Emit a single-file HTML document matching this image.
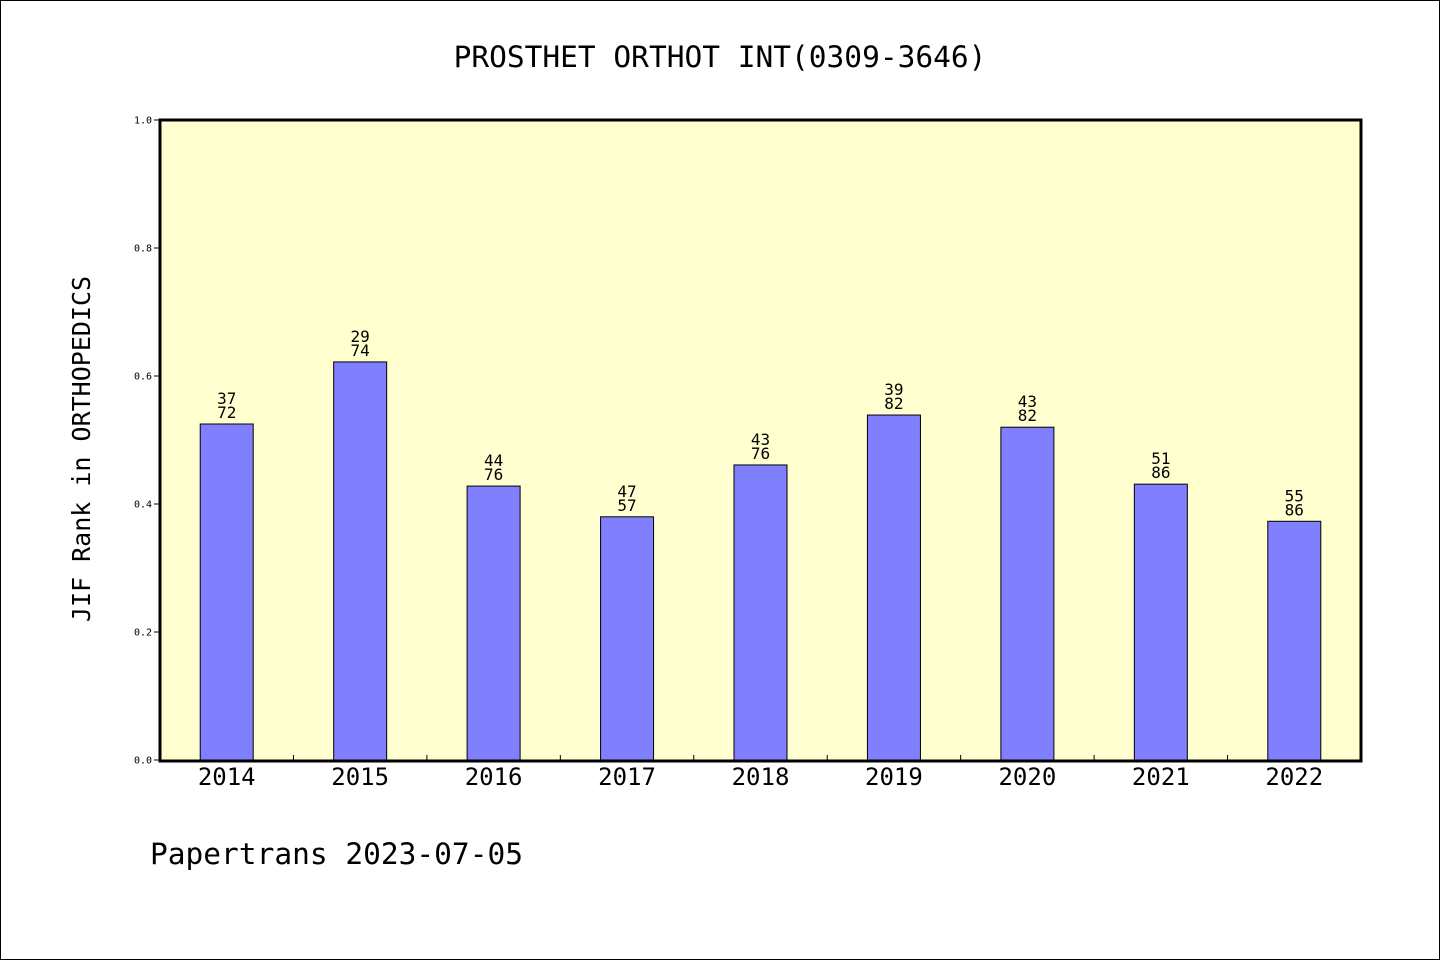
<!DOCTYPE html>
<html><head><meta charset="utf-8"><style>
html,body{margin:0;padding:0;background:#fff}
svg{display:block}
text{font-family:"DejaVu Sans Mono","Liberation Mono","WenQuanYi Zen Hei",monospace;fill:#000}
</style></head><body>
<svg id="chart" width="1440" height="960" xmlns="http://www.w3.org/2000/svg">
<rect x="0.5" y="0.5" width="1439" height="959" fill="#fff" stroke="#000"/>
<text x="720" y="67" font-size="29.5" text-anchor="middle">PROSTHET ORTHOT INT(0309-3646)</text>
<rect x="160" y="120" width="1201" height="641" fill="#ffffd0"/>
<g id="bars"></g>
<rect x="160" y="120" width="1201" height="641" fill="none" stroke="#000" stroke-width="3"/>
<g id="axes"></g>
<text transform="translate(90,449) rotate(-90)" font-size="25" text-anchor="middle">JIF Rank in ORTHOPEDICS</text>
<text x="150" y="864" font-size="29.5">Papertrans 2023-07-05</text>
</svg>
<script>
const categories = ["2014","2015","2016","2017","2018","2019","2020","2021","2022"];
const values = [0.525,0.622,0.428,0.380,0.461,0.539,0.520,0.431,0.373];
const rankTop = ["37","29","44","47","43","39","43","51","55"];
const rankBottom = ["72","74","76","57","76","82","82","86","86"];
const yTicks = [0,0.2,0.4,0.6,0.8,1.0];
const NS="http://www.w3.org/2000/svg";
const X0=160,X1=1361,Y0=760,Y1=120;
const slot=(X1-X0)/categories.length;
const xC=i=>X0+slot*(i+0.5);
const yS=v=>Y0-(Y0-Y1)*v;
function mk(t,a,p){const e=document.createElementNS(NS,t);for(const k in a)e.setAttribute(k,a[k]);p.appendChild(e);return e;}
const bars=document.getElementById('bars'),axes=document.getElementById('axes');
categories.forEach((c,i)=>{
  const bw=53,x=xC(i)-bw/2,y=yS(values[i]);
  const r=mk('rect',{x:x,y:y,width:bw,height:Y0-y,fill:'#8080ff',stroke:'#000','stroke-width':1},bars);
  
  
  const t1=mk('text',{x:xC(i),y:y-20,'font-size':16,'text-anchor':'middle'},bars);t1.textContent=rankTop[i];
  
  
  const t2=mk('text',{x:xC(i),y:y-6,'font-size':16,'text-anchor':'middle'},bars);t2.textContent=rankBottom[i];
  
  
  const xl=mk('text',{x:xC(i),y:785,'font-size':24,'text-anchor':'middle'},axes);xl.textContent=c;
  
  
  if(i>0){const tk=mk('line',{x1:X0+slot*i,x2:X0+slot*i,y1:Y0-5,y2:Y0,stroke:'#000'},axes);
  
  }
});
yTicks.forEach(v=>{
  const y=yS(v);
  const l=mk('line',{x1:X0-6,x2:X0,y1:y,y2:y,stroke:'#000'},axes);
  
  
  const t=mk('text',{x:X0-8,y:y+3.5,'font-size':10,'text-anchor':'end','font-family':'Liberation Sans, sans-serif'},axes);t.textContent=v.toFixed(1);
  
  
});
</script>
</body></html>
